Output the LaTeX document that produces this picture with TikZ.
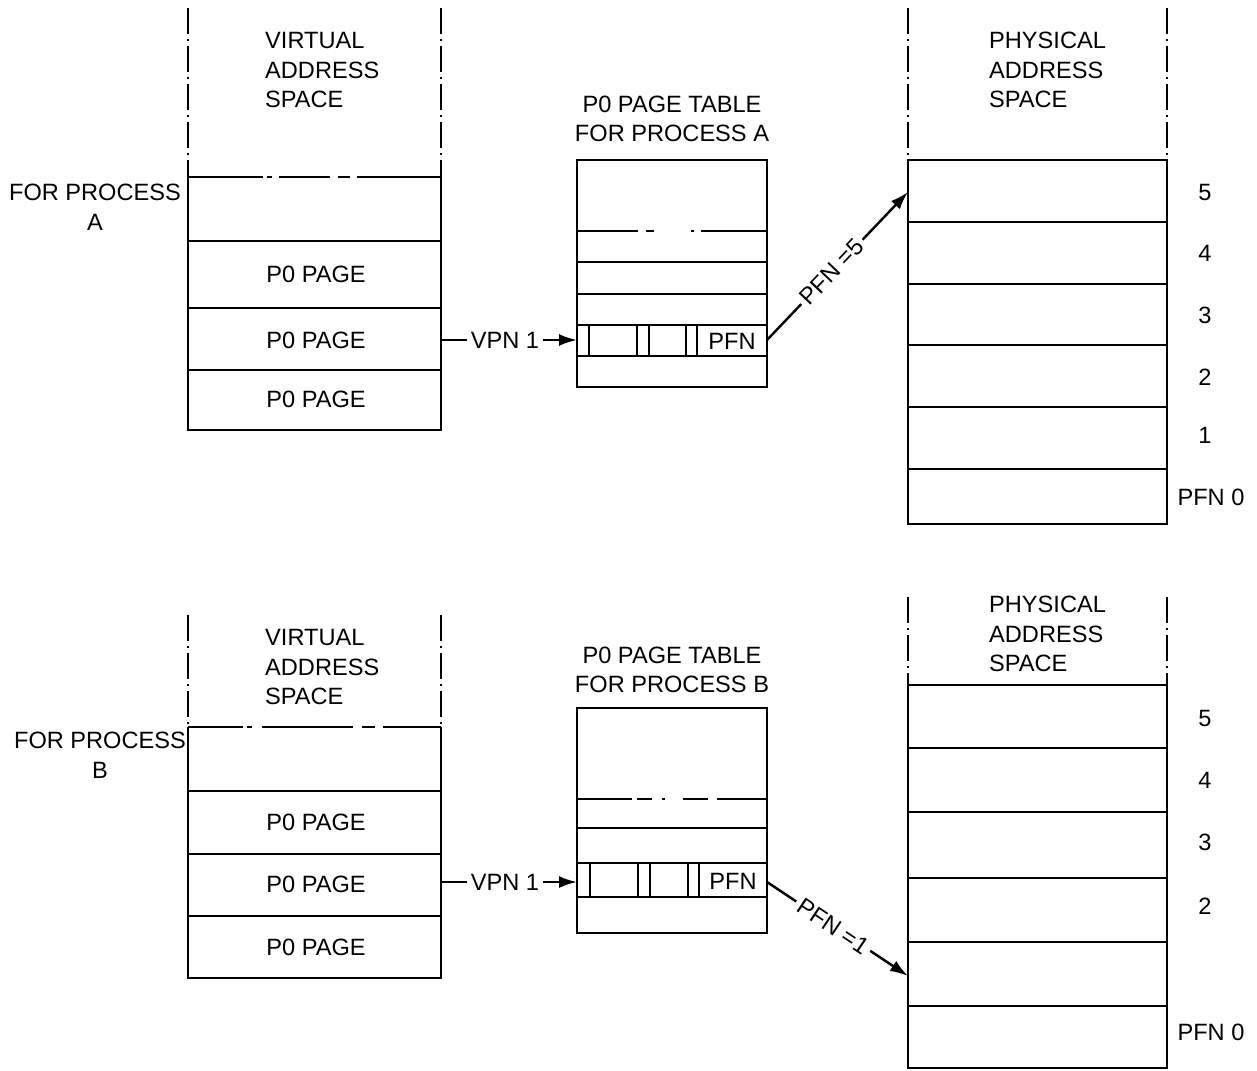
\documentclass[tikz,border=0pt]{standalone}
\usepackage{fontspec}
\setmainfont{Liberation Sans}
\usetikzlibrary{arrows.meta}
\begin{document}
\begin{tikzpicture}[x=0.5pt,y=-0.5pt,line width=1.2pt,
  every node/.style={font=\fontsize{11.8}{14.8}\selectfont,inner sep=0pt},
  dd/.style={dash pattern=on 13pt off 2.5pt on 1pt off 2.5pt},
  arr/.style={-{Latex[length=9pt,width=6pt]}},
  onlbl/.style={fill=white,inner sep=2pt},
  blk/.style={align=left,anchor=west},
  ctr/.style={align=center}]
\useasboundingbox (0,0) rectangle (1257,1070);

% ================= TOP (process A) =================
% virtual address space A
\draw[dd] (188,8) -- (188,177);
\draw[dd] (441,8) -- (441,177);
\draw (188,177) -- (188,430) -- (441,430) -- (441,177);
\foreach \y in {241,308,370} \draw (188,\y) -- (441,\y);
\foreach \a/\b in {188/263,267/272,279/330,338/350,357/441} \draw (\a,177) -- (\b,177);
\node[blk] (vtxtA) at (264,70) {VIRTUAL\\ADDRESS\\SPACE};
\node[ctr] (fpA) at (95,207) {FOR PROCESS\\A};
\node (pgA1) at (316,274) {P0 PAGE};
\node (pgA2) at (316,340) {P0 PAGE};
\node (pgA3) at (316,399) {P0 PAGE};

% page table A
\node[ctr] (ptA) at (672,119) {P0 PAGE TABLE\\FOR PROCESS A};
\draw (577,160) rectangle (767,387);
\foreach \y in {262,294,325,356} \draw (577,\y) -- (767,\y);
\foreach \a/\b in {577/638,646/654,691/694,701/767} \draw (\a,231) -- (\b,231);
\foreach \x in {589,637,649,686,697} \draw (\x,325) -- (\x,356);
\node (pfnA) at (732,341) {PFN};

% physical address space A
\draw[dd] (908,8) -- (908,160);
\draw[dd] (1167,8) -- (1167,160);
\draw (908,160) rectangle (1167,524);
\foreach \y in {222,284,345,407,469} \draw (908,\y) -- (1167,\y);
\node[blk] (ptxtA) at (988,70) {PHYSICAL\\ADDRESS\\SPACE};
\node (pA5) at (1205,192) {5};
\node (pA4) at (1205,253) {4};
\node (pA3) at (1205,315) {3};
\node (pA2) at (1205,377) {2};
\node (pA1) at (1205,435) {1};
\node (pA0) at (1211,497) {PFN 0};

% connectors A
\coordinate (vaA) at (441,340);
\coordinate (ptinA) at (577,340);
\coordinate (ptoutA) at (767,340);
\coordinate (phA5) at (908,192);
\draw[arr] (vaA) -- node[onlbl,pos=0.47] (vpnA) {VPN 1} (ptinA);
\draw[arr] (ptoutA) -- node[onlbl,sloped,pos=0.46] (pfnlA) {PFN =5} (phA5);

% ================= BOTTOM (process B) =================
% virtual address space B
\draw[dd] (188,615) -- (188,727);
\draw[dd] (441,615) -- (441,727);
\draw (188,727) -- (188,978) -- (441,978) -- (441,727);
\foreach \y in {791,854,916} \draw (188,\y) -- (441,\y);
\foreach \a/\b in {188/243,247/252,262/353,362/375,383/441} \draw (\a,727) -- (\b,727);
\node[blk] (vtxtB) at (264,667) {VIRTUAL\\ADDRESS\\SPACE};
\node[ctr] (fpB) at (100,755) {FOR PROCESS\\B};
\node (pgB1) at (316,822) {P0 PAGE};
\node (pgB2) at (316,884) {P0 PAGE};
\node (pgB3) at (316,947) {P0 PAGE};

% page table B
\node[ctr] (ptB) at (672,670) {P0 PAGE TABLE\\FOR PROCESS B};
\draw (577,708) rectangle (767,933);
\foreach \y in {828,863,897} \draw (577,\y) -- (767,\y);
\foreach \a/\b in {577/632,637/652,662/665,683/708,717/767} \draw (\a,799) -- (\b,799);
\foreach \x in {590,638,650,688,699} \draw (\x,863) -- (\x,897);
\node (pfnB) at (733,881) {PFN};

% physical address space B
\draw[dd] (908,597) -- (908,685);
\draw[dd] (1167,597) -- (1167,685);
\draw (908,685) rectangle (1167,1068);
\foreach \y in {748,812,878,942,1006} \draw (908,\y) -- (1167,\y);
\node[blk] (ptxtB) at (988,634) {PHYSICAL\\ADDRESS\\SPACE};
\node (pB5) at (1205,718) {5};
\node (pB4) at (1205,780) {4};
\node (pB3) at (1205,842) {3};
\node (pB2) at (1205,906) {2};
\node (pB0) at (1211,1032) {PFN 0};

% connectors B
\coordinate (vaB) at (441,882);
\coordinate (ptinB) at (577,882);
\coordinate (ptoutB) at (767,882);
\coordinate (phB1) at (908,976);
\draw[arr] (vaB) -- node[onlbl,pos=0.47] (vpnB) {VPN 1} (ptinB);
\draw[arr] (ptoutB) -- node[onlbl,sloped,pos=0.47] (pfnlB) {PFN =1} (phB1);
\end{tikzpicture}
\end{document}
